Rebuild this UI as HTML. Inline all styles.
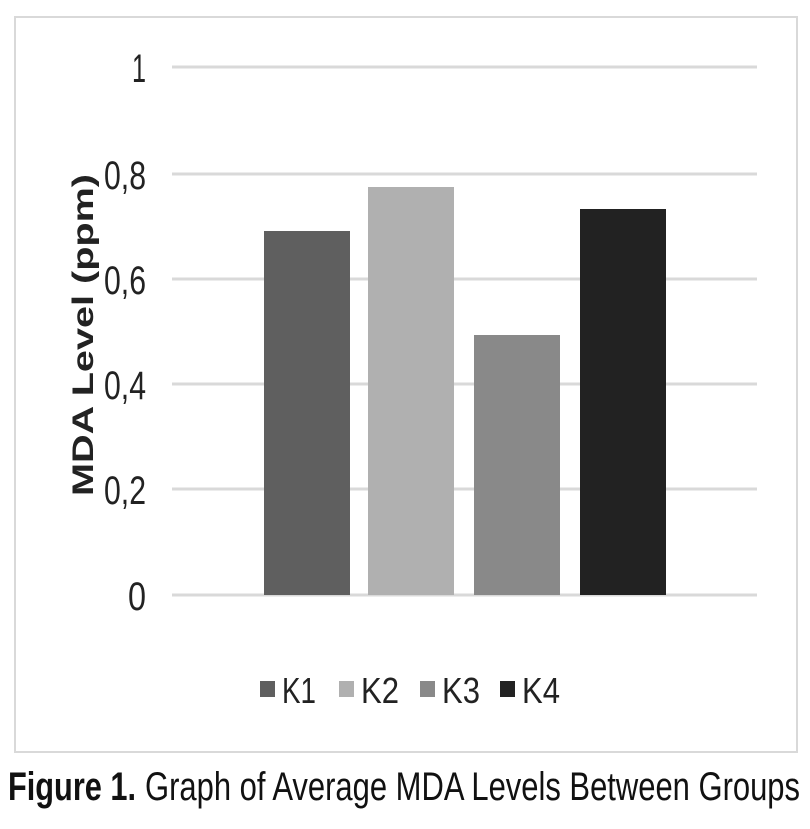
<!DOCTYPE html>
<html><head><meta charset="utf-8"><style>
html,body{margin:0;padding:0;background:#fff;}
svg{display:block;}
text{font-family:"Liberation Sans",Arial,sans-serif;}
</style></head><body>
<svg width="810" height="829" viewBox="0 0 810 829" xmlns="http://www.w3.org/2000/svg">
<rect x="15" y="17" width="782" height="735" fill="#fff" stroke="#d9d9d9" stroke-width="2"/>
<g stroke="#d9d9d9" stroke-width="3">
<line x1="172" y1="67" x2="757" y2="67"/>
<line x1="172" y1="174" x2="757" y2="174"/>
<line x1="172" y1="279" x2="757" y2="279"/>
<line x1="172" y1="384" x2="757" y2="384"/>
<line x1="172" y1="489" x2="757" y2="489"/>
<line x1="172" y1="595" x2="757" y2="595"/>
</g>
<rect x="264" y="231" width="86" height="364" fill="#5f5f5f"/>
<rect x="368" y="187" width="86" height="408" fill="#b0b0b0"/>
<rect x="474" y="335" width="86" height="260" fill="#898989"/>
<rect x="580" y="209" width="86" height="386" fill="#222"/>
<g font-size="40" fill="#222" text-anchor="end">
<text x="146" y="82" textLength="14" lengthAdjust="spacingAndGlyphs">1</text>
<text x="146" y="189" textLength="42" lengthAdjust="spacingAndGlyphs">0,8</text>
<text x="146" y="294" textLength="42" lengthAdjust="spacingAndGlyphs">0,6</text>
<text x="146" y="399" textLength="42" lengthAdjust="spacingAndGlyphs">0,4</text>
<text x="146" y="504" textLength="42" lengthAdjust="spacingAndGlyphs">0,2</text>
<text x="146" y="610" textLength="18" lengthAdjust="spacingAndGlyphs">0</text>
</g>
<text transform="translate(93,335) rotate(-90)" font-size="30" font-weight="bold" fill="#222" text-anchor="middle" textLength="322" lengthAdjust="spacingAndGlyphs">MDA Level (ppm)</text>
<rect x="260" y="681" width="15" height="16" fill="#5f5f5f"/>
<text x="282" y="703" font-size="36" fill="#222" textLength="34" lengthAdjust="spacingAndGlyphs">K1</text>
<rect x="339" y="681" width="15" height="16" fill="#b0b0b0"/>
<text x="361" y="703" font-size="36" fill="#222" textLength="38" lengthAdjust="spacingAndGlyphs">K2</text>
<rect x="420" y="681" width="15" height="16" fill="#898989"/>
<text x="442" y="703" font-size="36" fill="#222" textLength="38" lengthAdjust="spacingAndGlyphs">K3</text>
<rect x="500" y="681" width="15" height="16" fill="#222"/>
<text x="522" y="703" font-size="36" fill="#222" textLength="38" lengthAdjust="spacingAndGlyphs">K4</text>
<text x="8" y="800" font-size="40" fill="#111"><tspan font-weight="bold" textLength="128" lengthAdjust="spacingAndGlyphs">Figure 1.</tspan><tspan x="145" textLength="655" lengthAdjust="spacingAndGlyphs">Graph of Average MDA Levels Between Groups</tspan></text>
</svg>
</body></html>
